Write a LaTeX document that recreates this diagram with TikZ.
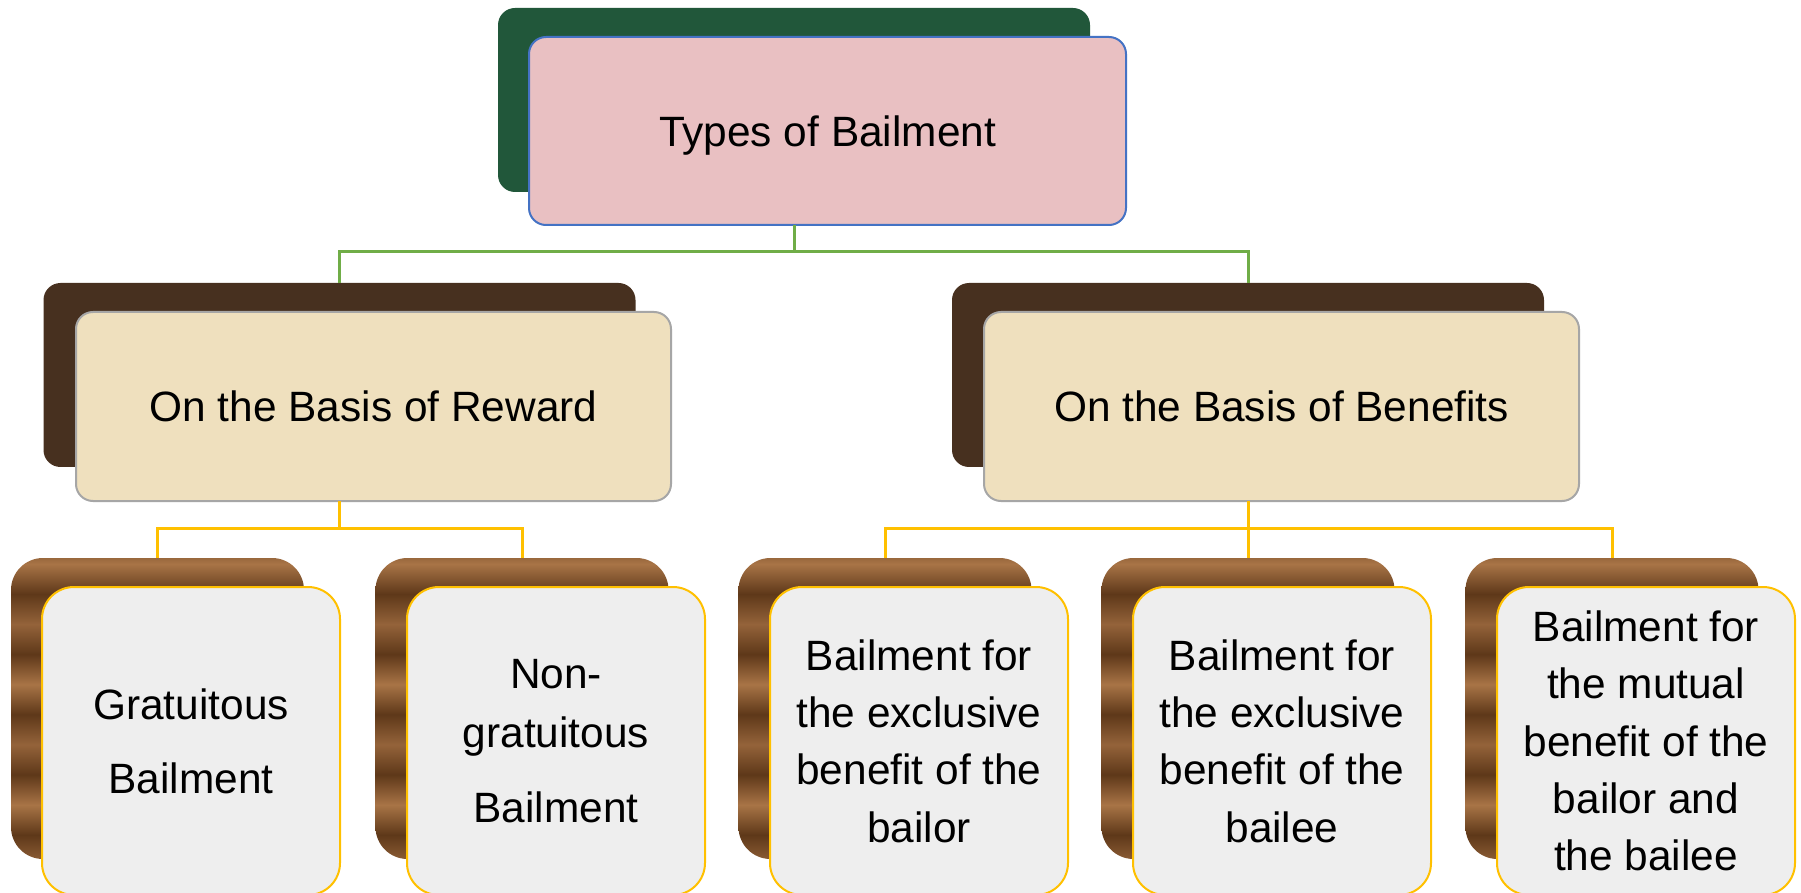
\documentclass[tikz,border=0pt]{standalone}
\usepackage{fontspec}
\setmainfont{Liberation Sans}
\definecolor{gconn}{HTML}{70AD47}
\definecolor{yconn}{HTML}{FFC000}
\definecolor{pinkfill}{HTML}{E9C0C2}
\definecolor{blueedge}{HTML}{4472C4}
\definecolor{greenback}{HTML}{21573A}
\definecolor{brownback}{HTML}{47301F}
\definecolor{parch}{HTML}{EFE0BE}
\definecolor{grayedge}{HTML}{A6A6A6}
\definecolor{granite}{HTML}{EEEEEE}
\definecolor{wA}{HTML}{5E3819}
\definecolor{wB}{HTML}{94633A}
\definecolor{wC}{HTML}{A87446}
\pgfdeclareverticalshading{wood}{100bp}{color(0bp)=(wA); color(5bp)=(wB); color(9bp)=(wA); color(14bp)=(wC); color(19bp)=(wA); color(24bp)=(wB); color(29bp)=(wA); color(34bp)=(wC); color(39bp)=(wA); color(44bp)=(wB); color(49bp)=(wA); color(54bp)=(wC); color(59bp)=(wA); color(64bp)=(wB); color(69bp)=(wA); color(74bp)=(wC); color(79bp)=(wA); color(84bp)=(wB); color(89bp)=(wC); color(95bp)=(wB); color(100bp)=(wC)}
\tikzset{
  every node/.style={inner sep=0pt, outer sep=0pt, align=center,
    font=\fontsize{21.2}{28.7}\selectfont},
  topback/.style={fill=greenback, rounded corners=8.5pt, minimum width=296pt, minimum height=92pt},
  topfront/.style={fill=pinkfill, draw=blueedge, line width=1pt, rounded corners=8.5pt, minimum width=298.5pt, minimum height=94pt, text depth=0pt},
  midback/.style={fill=brownback, rounded corners=8.5pt, minimum width=296pt, minimum height=92pt},
  midfront/.style={fill=parch, draw=grayedge, line width=1pt, rounded corners=8.5pt, minimum width=297.5pt, minimum height=94.5pt},
  lowback/.style={shading=wood, rounded corners=16pt, minimum width=146.5pt, minimum height=150.5pt},
  lowfront/.style={fill=granite, draw=yconn, line width=1pt, rounded corners=16pt, minimum width=149pt, minimum height=154pt},
  gl/.style={draw=gconn, line width=1.5pt},
  yl/.style={draw=yconn, line width=1.5pt}
}
\begin{document}
\begin{tikzpicture}[x=0.5pt,y=-0.5pt]
\useasboundingbox[fill=white] (0,0) rectangle (1801,893);
% top
\node[topback] (tb) at (794,100) {};
\node[topfront] (t) at (827.5,131) {Types of Bailment};
% middle
\node[midback] (lb) at (339.5,375) {};
\node[midfront] (l) at (373.5,406.5) {On the Basis of Reward};
\node[midback] (rb) at (1248,375) {};
\node[midfront] (r) at (1281.5,406.5) {On the Basis of Benefits};
% bottom
\node[lowback] (b1b) at (157.5,708.5) {};
\node[lowfront] (b1) at (191,741) {Gratuitous\\[8.3pt]Bailment};
\node[lowback] (b2b) at (522,708.5) {};
\node[lowfront] (b2) at (556,741) {Non-\\[1.2pt]gratuitous\\[8.6pt]Bailment};
\node[lowback] (b3b) at (885,708.5) {};
\node[lowfront] (b3) at (919,741) {Bailment for\\the exclusive\\benefit of the\\bailor};
\node[lowback] (b4b) at (1248,708.5) {};
\node[lowfront] (b4) at (1282,741) {Bailment for\\the exclusive\\benefit of the\\bailee};
\node[lowback] (b5b) at (1612,708.5) {};
\node[lowfront] (b5) at (1646,741) {Bailment for\\the mutual\\benefit of the\\bailor and\\the bailee};
% connectors
\draw[gl] (tb.south |- t.south) -- ++(0,27) -| (lb.north);
\draw[gl] (tb.south |- t.south) -- ++(0,27) -| (rb.north);
\draw[yl] (lb.south |- l.south) -- ++(0,27) -| (b1b.north);
\draw[yl] (lb.south |- l.south) -- ++(0,27) -| (b2b.north);
\draw[yl] (rb.south |- r.south) -- ++(0,27) -| (b3b.north);
\draw[yl] (rb.south |- r.south) -- (b4b.north);
\draw[yl] (rb.south |- r.south) -- ++(0,27) -| (b5b.north);
\end{tikzpicture}
\end{document}
